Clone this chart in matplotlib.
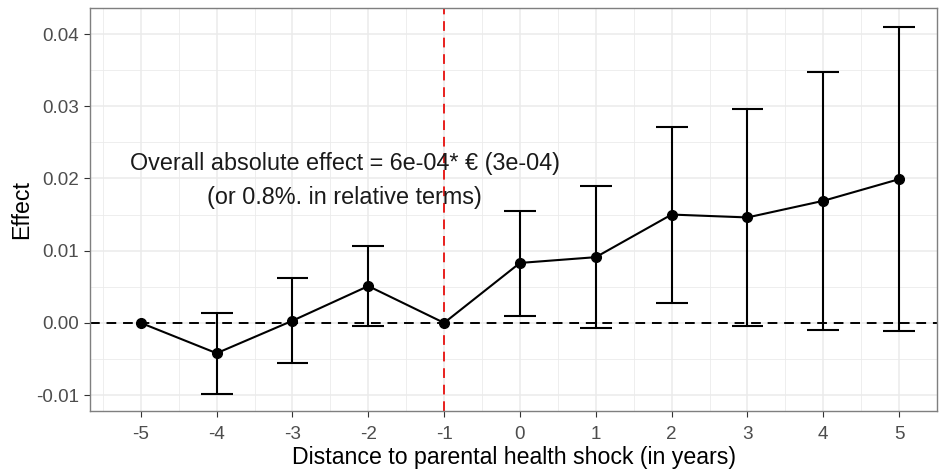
import numpy as np
import matplotlib.pyplot as plt

# event-study estimates
years = [-5, -4, -3, -2, -1, 0, 1, 2, 3, 4, 5]
effect = [0.0, -0.0042, 0.0003, 0.0051, 0.0, 0.0083, 0.0091, 0.0150, 0.0146, 0.0169, 0.0199]
ci_low = [np.nan, -0.0098, -0.0055, -0.0004, np.nan, 0.0010, -0.0007, 0.0028, -0.0004, -0.0010, -0.0011]
ci_high = [np.nan, 0.0014, 0.0062, 0.0107, np.nan, 0.0155, 0.0190, 0.0271, 0.0296, 0.0347, 0.0410]
y_ticks = [-0.01, 0.00, 0.01, 0.02, 0.03, 0.04]
note = "Overall absolute effect = 6e-04* \u20ac (3e-04)\n(or 0.8%. in relative terms)"

plt.rcParams['font.family'] = ['Liberation Sans', 'DejaVu Sans']

fig = plt.figure(figsize=(9.4, 4.73), dpi=100)
ax = fig.add_axes([90 / 940, 1 - 411 / 473, 847 / 940, 403 / 473])

# theme_bw style grid
ax.set_axisbelow(True)
ax.set_xticks(np.arange(-5.5, 6, 1), minor=True)
ax.set_yticks(np.arange(-0.01, 0.045, 0.005), minor=True)
ax.grid(which='major', color='#EBEBEB', lw=1.1)
ax.grid(which='minor', color='#EBEBEB', lw=0.6)
for s in ax.spines.values():
    s.set_color('#7F7F7F')
    s.set_linewidth(1.0)

ax.axhline(0, color='black', ls=(0, (5, 3.5)), lw=1.4, zorder=2)
ax.axvline(-1, color='#E8201E', ls=(0, (5, 3.5)), lw=1.4, zorder=2)

x = np.array(years)
lo = np.array(ci_low)
hi = np.array(ci_high)
ok = ~np.isnan(lo)
ax.vlines(x[ok], lo[ok], hi[ok], color='black', lw=1.5, zorder=3)
ax.hlines(lo[ok], x[ok] - 0.21, x[ok] + 0.21, color='black', lw=1.5, zorder=3)
ax.hlines(hi[ok], x[ok] - 0.21, x[ok] + 0.21, color='black', lw=1.5, zorder=3)
ax.plot(x, effect, color='black', lw=1.5, marker='o', ms=7, zorder=4)

ax.text(-2.31, 0.0197, note, ha='center', va='center', fontsize=16.8,
        color='#1A1A1A', linespacing=1.62)

ax.set_xlim(-5.67, 5.5)
ax.set_ylim(-0.0122, 0.0436)
ax.set_xticks(years)
ax.set_xticklabels([str(v) for v in years])
ax.set_yticks(y_ticks)
ax.set_yticklabels(['-0.01', '0.00', '0.01', '0.02', '0.03', '0.04'])
ax.tick_params(which='major', length=4, color='#333333', labelsize=13.6,
               labelcolor='#4D4D4D', pad=4)
ax.tick_params(axis='x', which='major', pad=7)
ax.tick_params(which='minor', length=0)
ax.set_xlabel('Distance to parental health shock (in years)', fontsize=16.7, labelpad=2)
ax.set_ylabel('Effect', fontsize=16.7, labelpad=2)

fig.savefig('out.png', dpi=100)
